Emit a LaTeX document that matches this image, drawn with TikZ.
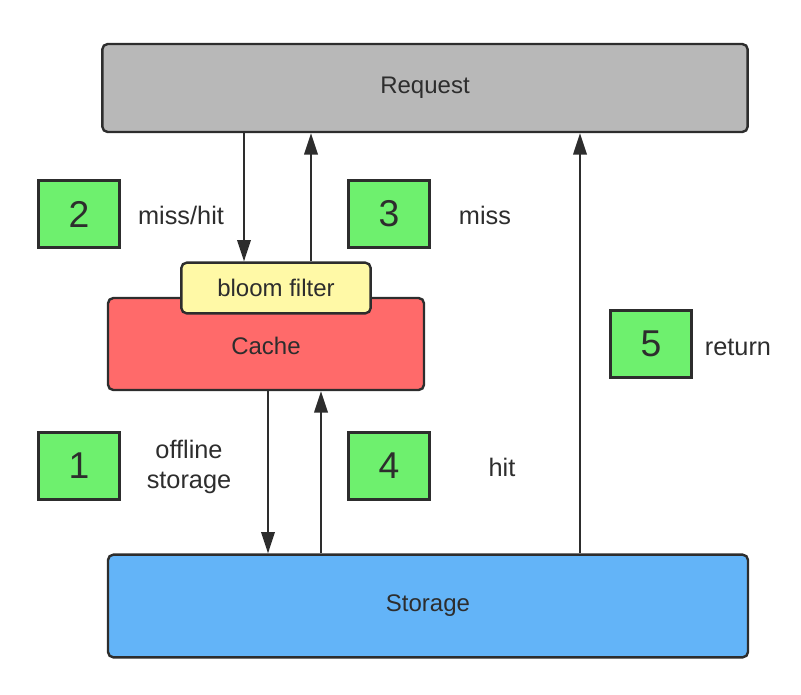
\documentclass[tikz,border=0pt]{standalone}
\usepackage{fontspec}
\setmainfont{Liberation Sans}
\usetikzlibrary{positioning,arrows.meta}
\definecolor{reqgray}{RGB}{184,184,184}
\definecolor{cachered}{RGB}{255,106,106}
\definecolor{bloomyellow}{RGB}{255,249,166}
\definecolor{storeblue}{RGB}{99,180,248}
\definecolor{stepgreen}{RGB}{110,240,110}
\definecolor{edgegray}{RGB}{45,45,45}

\begin{document}
\begin{tikzpicture}[x=0.75pt,y=-0.75pt,
  block/.style={draw=edgegray,line width=1.8pt,rounded corners=4pt,inner sep=0pt,font=\fontsize{18}{22}\selectfont,text=edgegray},
  stepbox/.style={draw=edgegray,line width=1.8pt,fill=stepgreen,minimum width=61pt,minimum height=50pt,inner sep=0pt,font=\fontsize{28}{32}\selectfont,text=edgegray},
  tag/.style={font=\fontsize{19}{23}\selectfont,text=edgegray,align=center},
  flow/.style={draw=edgegray,line width=1.8pt,-{Triangle[length=16pt,width=10pt]}}]
\useasboundingbox (0,0) rectangle (801,694);
% main blocks
\node[block,fill=reqgray,minimum width=484pt,minimum height=66pt] (request) at (425,88) {Request};
\node[block,fill=cachered,minimum width=237pt,minimum height=69pt] (cache) at (266,344) {};
\node[block,draw=none,fill=none] (cachetext) at (266,346) {Cache};
\node[block,fill=bloomyellow,minimum width=142pt,minimum height=38pt] (bloom) at (276,288) {bloom filter};
\node[block,fill=storeblue,minimum width=480pt,minimum height=77pt] (storage) at (428,606) {Storage};
% numbered steps
\node[stepbox] (s2) at (79,214) {2};
\node[stepbox] (s3) at (389,214) {3};
\node[stepbox] (s1) at (79,466) {1};
\node[stepbox] (s4) at (389,466) {4};
\node[stepbox] (s5) at (651,344) {5};
\node[tag] (t2) at (181,215) {miss/hit};
\node[tag] (t3) at (485,215) {miss};
\node[tag] (t1) at (189,467) {offline\\storage};
\node[tag] (t4) at (502,467) {hit};
\node[tag] (t5) at (738,347) {return};
% arrows
\draw[flow] (request.south -| 244,0) -- (bloom.north -| 244,0);
\draw[flow] (bloom.north -| 311,0) -- (request.south -| 311,0);
\draw[flow] (cache.south -| 268,0) -- (storage.north -| 268,0);
\draw[flow] (storage.north -| 321,0) -- (cache.south -| 321,0);
\draw[flow] (storage.north -| 580,0) -- (request.south -| 580,0);
\end{tikzpicture}
\end{document}
